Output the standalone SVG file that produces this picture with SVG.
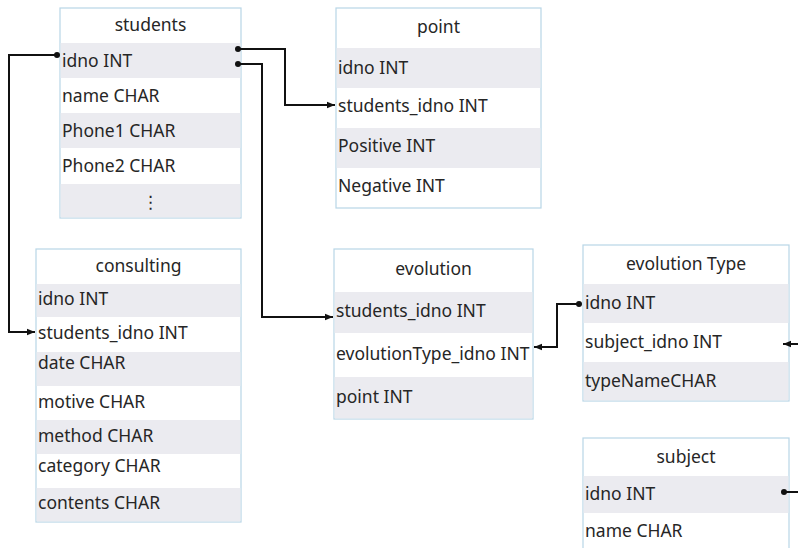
<svg xmlns="http://www.w3.org/2000/svg" width="798" height="548" viewBox="0 0 798 548">
<style>
.box{fill:#ffffff;stroke:#b8d6e6;stroke-width:1.2}
.sh{fill:#ebebf0}
text{font-family:"Noto Sans","Open Sans","DejaVu Sans",sans-serif;font-size:17.5px;fill:#262626}
.t{text-anchor:middle}
.c{fill:none;stroke:#111;stroke-width:2}
</style>
<defs>
<marker id="ar" viewBox="0 0 10 10" refX="10" refY="5" markerWidth="8" markerHeight="8" markerUnits="userSpaceOnUse" orient="auto">
<path d="M0,1 L10,5 L0,9 z" fill="#111"/>
</marker>
</defs>
<rect width="798" height="548" fill="#ffffff"/>
<g id="students">
<rect class="box" x="60" y="8" width="181" height="210"/>
<rect class="sh" x="60.6" y="43" width="179.8" height="35"/>
<rect class="sh" x="60.6" y="113" width="179.8" height="35"/>
<rect class="sh" x="60.6" y="184" width="179.8" height="33.4"/>
<text class="t" x="150.5" y="31">students</text>
<text x="62" y="67">idno INT</text>
<text x="62" y="102">name CHAR</text>
<text x="62" y="137">Phone1 CHAR</text>
<text x="62" y="172">Phone2 CHAR</text>
<text class="t" x="150.5" y="208">⋮</text>
</g>
<g id="point">
<rect class="box" x="336" y="8" width="205" height="200"/>
<rect class="sh" x="336.6" y="48" width="203.8" height="40"/>
<rect class="sh" x="336.6" y="128" width="203.8" height="40"/>
<text class="t" x="438.5" y="33">point</text>
<text x="338" y="74">idno INT</text>
<text x="338" y="112">students_idno INT</text>
<text x="338" y="152">Positive INT</text>
<text x="338" y="192">Negative INT</text>
</g>
<g id="consulting">
<rect class="box" x="36" y="249" width="205" height="273"/>
<rect class="sh" x="36.6" y="284" width="203.8" height="33"/>
<rect class="sh" x="36.6" y="352" width="203.8" height="34"/>
<rect class="sh" x="36.6" y="420" width="203.8" height="34"/>
<rect class="sh" x="36.6" y="488" width="203.8" height="33.4"/>
<text class="t" x="138.5" y="272">consulting</text>
<text x="38" y="305">idno INT</text>
<text x="38" y="339">students_idno INT</text>
<text x="38" y="369">date CHAR</text>
<text x="38" y="408">motive CHAR</text>
<text x="38" y="442">method CHAR</text>
<text x="38" y="472">category CHAR</text>
<text x="38" y="509">contents CHAR</text>
</g>
<g id="evolution">
<rect class="box" x="334" y="249" width="199" height="170"/>
<rect class="sh" x="334.6" y="292" width="197.8" height="41"/>
<rect class="sh" x="334.6" y="377" width="197.8" height="41.4"/>
<text class="t" x="433.5" y="275">evolution</text>
<text x="336" y="317">students_idno INT</text>
<text x="336" y="360">evolutionType_idno INT</text>
<text x="336" y="403">point INT</text>
</g>
<g id="evolutionType">
<rect class="box" x="583" y="245" width="206" height="156"/>
<rect class="sh" x="583.6" y="284" width="204.8" height="39"/>
<rect class="sh" x="583.6" y="362" width="204.8" height="38.4"/>
<text class="t" x="686" y="270">evolution Type</text>
<text x="585" y="309">idno INT</text>
<text x="585" y="348">subject_idno INT</text>
<text x="585" y="387">typeNameCHAR</text>
</g>
<g id="subject">
<rect class="box" x="583" y="438" width="206" height="120"/>
<rect class="sh" x="583.6" y="476" width="204.8" height="37"/>
<text class="t" x="686" y="463">subject</text>
<text x="585" y="500">idno INT</text>
<text x="585" y="537">name CHAR</text>
</g>
<g id="connectors">
<circle cx="57" cy="55" r="3" fill="#111"/>
<path class="c" d="M57,55 H9 V332 H35" marker-end="url(#ar)"/>
<circle cx="238" cy="49" r="3" fill="#111"/>
<path class="c" d="M238,49 H285 V105 H335" marker-end="url(#ar)"/>
<circle cx="238" cy="64" r="3" fill="#111"/>
<path class="c" d="M238,64 H262 V317 H333" marker-end="url(#ar)"/>
<circle cx="579" cy="304" r="3" fill="#111"/>
<path class="c" d="M579,304 H557 V347 H534" marker-end="url(#ar)"/>
<path class="c" d="M798,344 H783" marker-end="url(#ar)"/>
<circle cx="784" cy="492" r="3" fill="#111"/>
<path class="c" d="M784,492 H798"/>
</g>
</svg>
